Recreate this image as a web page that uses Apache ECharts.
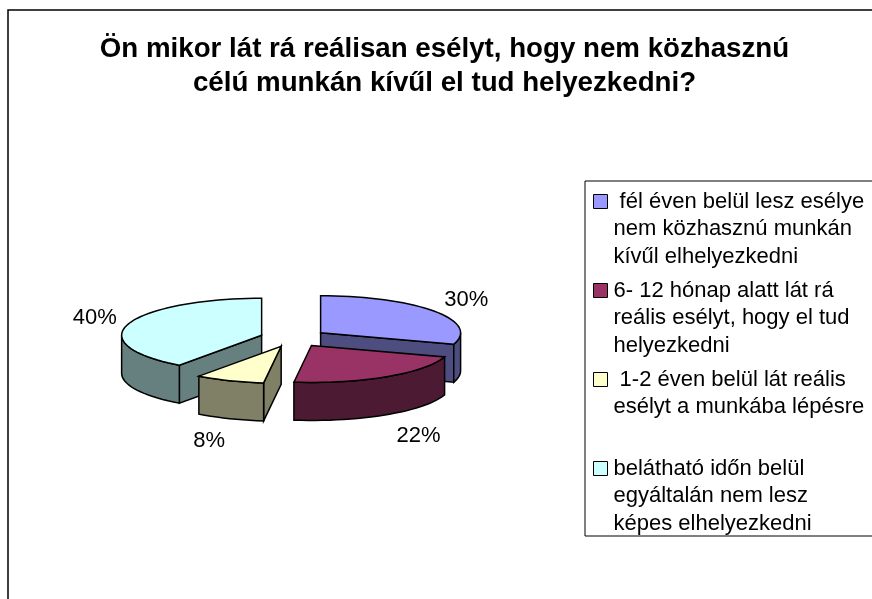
<!DOCTYPE html>
<html><head><meta charset="utf-8">
<style>html,body{margin:0;padding:0;background:#fff}#c{width:872px;height:599px}</style>
<script src="https://cdn.jsdelivr.net/npm/echarts@6/dist/echarts.min.js"></script>
</head><body><div id="c"></div>
<script>
const titleText = 'Ön mikor lát rá reálisan esélyt, hogy nem közhasznú\ncélú munkán kívűl el tud helyezkedni?';
const categories = [
  ' fél éven belül lesz esélye\nnem közhasznú munkán\nkívűl elhelyezkedni',
  '6- 12 hónap alatt lát rá\nreális esélyt, hogy el tud\nhelyezkedni',
  ' 1-2 éven belül lát reális\nesélyt a munkába lépésre\n ',
  'belátható időn belül\negyáltalán nem lesz\nképes elhelyezkedni'
];
const values = [30, 22, 8, 40];
const topColors = ['#9999FF', '#993366', '#FFFFCC', '#CCFFFF'];
const sideColors = ['#4D4D80', '#4D1A33', '#808066', '#668080'];
const paintOrder = [0, 3, 2, 1];
const labelNudge = [[-4, 2], [8, 3], [-4, 2], [9, 1]];

const FONT = '"Liberation Sans", Arial, sans-serif';
const pie = {cx: 293.5, cy: 338, rx: 140, ry: 37, depth: 38, explode: 33.5};
const total = values.reduce((a, b) => a + b, 0);
const rad = d => d * Math.PI / 180;

function startAngle(i) {
  let s = 0;
  for (let k = 0; k < i; k++) s += values[k];
  return s / total * 360;
}
function renderSlice(i) {
  return function (params, api) {
    const v = api.value(0);
    const a0 = startAngle(i), a1 = a0 + v / total * 360, mid = (a0 + a1) / 2;
    const cx = pie.cx + pie.explode * Math.sin(rad(mid));
    const cy = pie.cy - pie.explode * pie.ry / pie.rx * Math.cos(rad(mid));
    const pt = (a, dy) => [cx + pie.rx * Math.sin(rad(a)), cy - pie.ry * Math.cos(rad(a)) + (dy || 0)];
    const arc = (from, to, dy) => {
      const out = [], n = Math.max(2, Math.ceil((to - from) / 3));
      for (let k = 0; k <= n; k++) out.push(pt(from + (to - from) * k / n, dy));
      return out;
    };
    const side = sideColors[i];
    const poly = (points, fill) => ({
      type: 'polygon', shape: {points},
      style: {fill, stroke: '#000', lineWidth: 1.5, lineJoin: 'miter'}
    });
    const children = [];
    const wall = a => {
      const p = pt(a), q = pt(a, pie.depth);
      children.push(poly([[cx, cy], p, q, [cx, cy + pie.depth]], side));
    };
    if (Math.sin(rad(a1)) > 1e-6) wall(a1);
    if (Math.sin(rad(a0)) < -1e-6) wall(a0);
    const f0 = Math.max(a0, 90), f1 = Math.min(a1, 270);
    if (f1 > f0) children.push(poly(arc(f0, f1, 0).concat(arc(f0, f1, pie.depth).reverse()), side));
    children.push(poly([[cx, cy]].concat(arc(a0, a1, 0)), topColors[i]));
    const s = Math.sin(rad(mid)), c = Math.cos(rad(mid));
    children.push({
      type: 'text',
      x: cx + s * (pie.rx + 45) + labelNudge[i][0],
      y: cy - c * (pie.ry + 22) + (c < 0 ? pie.depth : 0) + labelNudge[i][1],
      style: {text: Math.round(v / total * 100) + '%', font: '22px ' + FONT, fill: '#000', align: 'center', verticalAlign: 'middle'}
    });
    return {type: 'group', children};
  };
}

const chart = echarts.init(document.getElementById('c'), null, {renderer: 'canvas'});
chart.setOption({
  animation: false,
  backgroundColor: '#fff',
  title: {
    text: titleText, left: 439.5, top: 28, textAlign: 'center',
    textStyle: {fontFamily: FONT, fontWeight: 'bold', fontSize: 27.7, lineHeight: 33.5, color: '#000'}
  },
  legend: {
    orient: 'vertical', left: 585, top: 181,
    padding: [6, 10, 0, 8],
    itemGap: 5, itemWidth: 15, itemHeight: 83,
    symbolKeepAspect: false, selectedMode: false,
    icon: 'path://M0 7H14V21H0Z M0 0 M15 83',
    itemStyle: {borderColor: '#000', borderWidth: 1},
    textStyle: {fontFamily: FONT, fontSize: 22, lineHeight: 27.5, color: '#000'},
    data: categories
  },
  graphic: [{
    type: 'rect', silent: true, z: -1,
    shape: {x: 8, y: 10, width: 1000, height: 800},
    style: {fill: 'none', stroke: '#000', lineWidth: 1.5}
  }, {
    type: 'rect', silent: true, z: -1,
    shape: {x: 585, y: 181, width: 400, height: 355},
    style: {fill: 'none', stroke: '#000', lineWidth: 1}
  }],
  series: paintOrder.map(i => ({
    type: 'custom', name: categories[i], coordinateSystem: 'none',
    itemStyle: {color: topColors[i]},
    renderItem: renderSlice(i),
    data: [[values[i]]],
    z: 2, silent: true
  }))
});
</script></body></html>
